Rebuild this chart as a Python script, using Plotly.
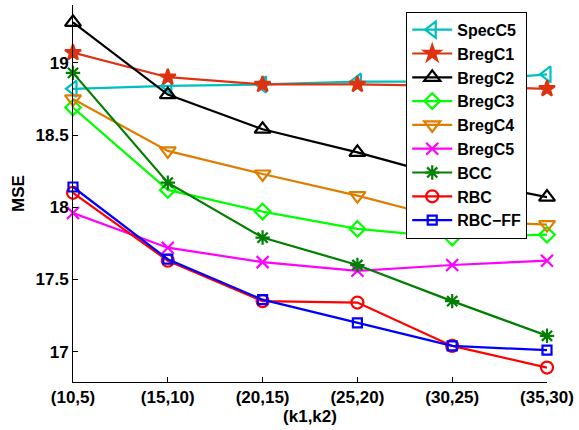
import plotly.graph_objects as go

categories = ["(10,5)", "(15,10)", "(20,15)", "(25,20)", "(30,25)", "(35,30)"]
series_names = ["SpecC5", "BregC1", "BregC2", "BregC3", "BregC4", "BregC5", "BCC", "RBC", "RBC\u2212FF"]
spec_c5 = [18.82, 18.84, 18.85, 18.87, 18.87, 18.92]
breg_c1 = [19.07, 18.90, 18.85, 18.85, 18.84, 18.82]
breg_c2 = [19.28, 18.78, 18.54, 18.38, 18.20, 18.07]
breg_c3 = [18.69, 18.12, 17.97, 17.85, 17.79, 17.81]
breg_c4 = [18.75, 18.39, 18.23, 18.08, 17.91, 17.88]
breg_c5 = [17.96, 17.72, 17.62, 17.56, 17.60, 17.63]
bcc = [18.93, 18.17, 17.79, 17.60, 17.35, 17.11]
rbc = [18.10, 17.63, 17.35, 17.34, 17.04, 16.89]
rbc_ff = [18.14, 17.64, 17.36, 17.20, 17.04, 17.01]
y_ticks = [17, 17.5, 18, 18.5, 19]

data = [spec_c5, breg_c1, breg_c2, breg_c3, breg_c4, breg_c5, bcc, rbc, rbc_ff]
colors = ["#00BFBF", "#DD3311", "#000000", "#00FF00", "#DE7D00", "#FF00FF", "#007F00", "#FF0000", "#0000FF"]
symbols = ["triangle-left-open", "star", "triangle-up-open", "diamond-open", "triangle-down-open",
           "x-thin-open", "asterisk-open", "circle-open", "square-open"]
sizes = [14, 12, 14, 12, 14, 12, 12, 12, 9]

fig = go.Figure()
x = list(range(len(categories)))
for name, vals, c, s, sz in zip(series_names, data, colors, symbols, sizes):
    fig.add_trace(go.Scatter(
        x=x, y=vals, name=name, mode="lines+markers",
        line=dict(color=c, width=2.2),
        marker=dict(symbol=s, size=sz, color=c, line=dict(color=c, width=2.2)),
        cliponaxis=False,
    ))

font = dict(family="Liberation Sans, Arial, sans-serif", size=17, color="black", weight="bold")
fig.update_layout(
    width=579, height=430,
    margin=dict(l=73, r=28, t=5, b=48),
    plot_bgcolor="white", paper_bgcolor="white",
    font=font,
    showlegend=True,
    legend=dict(x=0.703, y=0.982, xanchor="left", yanchor="top",
                bgcolor="white", bordercolor="black", borderwidth=1,
                font=dict(family="Liberation Sans, Arial, sans-serif", size=16, color="black", weight="bold"),
                tracegroupgap=0, itemwidth=40),
    xaxis=dict(range=[0, 5], tickvals=x, ticktext=categories, showgrid=False, zeroline=False,
               showline=True, linecolor="black", linewidth=1, ticks="inside", ticklen=5,
               tickcolor="black", tickfont=font,
               title=dict(text="(k1,k2)", font=font, standoff=0)),
    yaxis=dict(range=[16.79, 19.4], tickvals=y_ticks, ticktext=["17", "17.5", "18", "18.5", "19"],
               showgrid=False, zeroline=False, showline=True, linecolor="black", linewidth=1,
               ticks="inside", ticklen=5, tickcolor="black", tickfont=font,
               title=dict(text="MSE", font=font, standoff=6)),
)
fig.write_html("out.html")
